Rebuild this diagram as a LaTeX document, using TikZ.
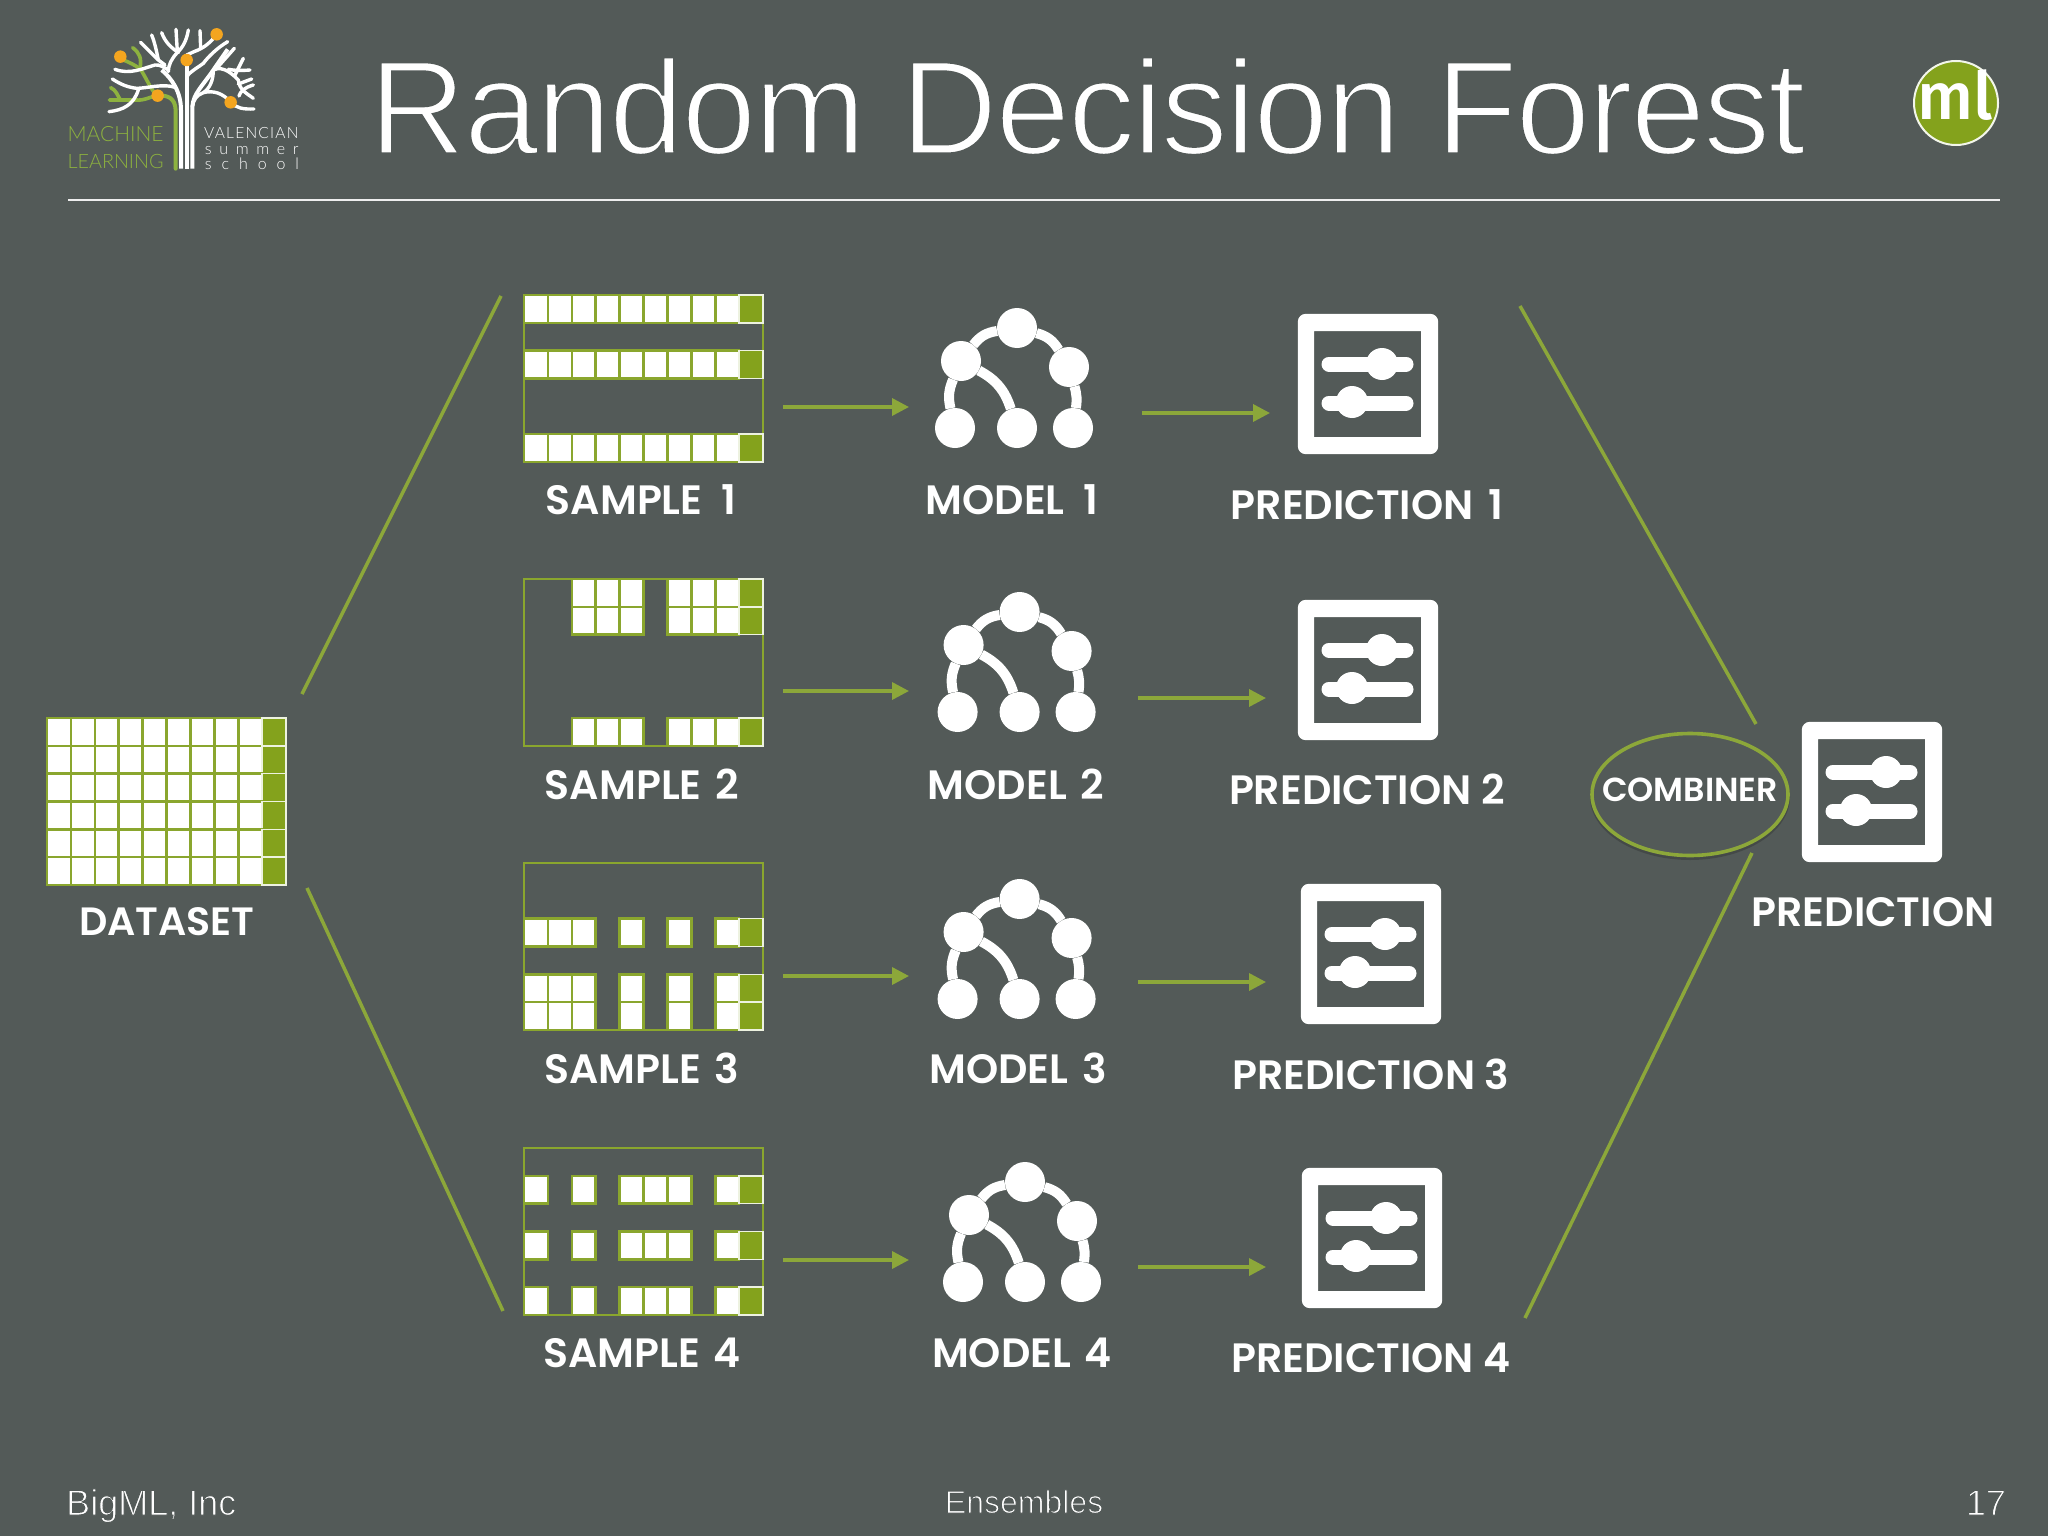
\documentclass[tikz,border=0pt]{standalone}
\usepackage{fontspec}
\usetikzlibrary{arrows.meta,shapes.geometric}
\setmainfont{Liberation Sans}
\newfontfamily\lightf{Lato Light}
\newfontfamily\boldf{Poppins SemiBold}
\newfontfamily\mlf{Fira Sans Medium}
\definecolor{bg}{HTML}{535A58}
\definecolor{grn}{HTML}{8AA62E}
\definecolor{lnk}{HTML}{8CA73A}
\definecolor{tgt}{HTML}{84A21C}
\definecolor{treeg}{HTML}{8DB23F}
\definecolor{orng}{HTML}{F4A51F}
\newcommand\thintext[2]{\special{pdf:code 2 Tr 0.325 0.353 0.345 RG #1 w}#2\special{pdf:code 0 Tr}}
\newcommand\wsp{\kern4pt\ }
\tikzset{
  lbl/.style={font=\boldf\fontsize{41}{41}\selectfont,text=white,inner sep=0pt},
  foot/.style={font=\fontsize{36}{36}\selectfont,text=white,inner sep=0pt},
  frame/.style={draw=grn,line width=2pt,rectangle,inner sep=0pt,minimum width=239pt,minimum height=167pt},
  cellw/.style={fill=white,draw=grn,line width=2.6pt},
  cellt/.style={fill=tgt,draw=white!85!grn,line width=1.4pt},
  link/.style={draw=lnk,line width=3.5pt},
  arr/.style={draw=lnk,line width=3.5pt,-{Triangle[length=17pt,width=17pt,fill=lnk]}},
  treen/.style={circle,fill=white,minimum size=40pt,inner sep=0pt},
  treee/.style={draw=white,line width=10pt},
  whbr/.style={draw=white,line width=3.4pt,line cap=round},
  grbr/.style={draw=treeg,line width=3.6pt,line cap=round},
  dot/.style={circle,fill=orng,minimum size=12.5pt,inner sep=0pt},
  logoa/.style={text=treeg,font=\lightf\fontsize{21}{21}\selectfont,anchor=base west,inner sep=0pt},
  logob/.style={text=white,anchor=base west,inner sep=0pt}
}
% name, x0, y0, rows, cols
\newcommand\gridset[5]{%
  \node[frame] (#1) at (#2+119.5,#3+83.5) {};
  \foreach \r in {#4}{%
    \foreach \c in {#5}{%
      \path[cellw] (#2+\c*23.9,#3+\r*27.83) rectangle ++(23.9,27.83);
    }%
    \path[cellt] (#2+215.1,#3+\r*27.83) rectangle ++(23.9,27.83);
  }%
}
\newcommand\modelicon[3]{%
  \begin{scope}[shift={(#2,#3)}]
    \node[treen] (#1t) at (1017,328) {};
    \node[treen] (#1l) at (961,361) {};
    \node[treen] (#1r) at (1069,367) {};
    \node[treen] (#1a) at (955,428) {};
    \node[treen] (#1b) at (1017,428) {};
    \node[treen] (#1c) at (1073,428) {};
    \draw[treee] (#1t) to[bend right=22] (#1l);
    \draw[treee] (#1t) to[bend left=22] (#1r);
    \draw[treee] (#1l) to[bend right=18] (#1a);
    \draw[treee] (#1l) to[bend left=22] (#1b);
    \draw[treee] (#1r) to[bend left=12] (#1c);
  \end{scope}%
}
\newcommand\predicon[3]{%
  \begin{scope}[shift={(#2,#3)}]
    \node[rectangle,minimum size=140pt,inner sep=0pt] (#1) at (1368,384) {};
    \fill[white,even odd rule,rounded corners=8pt] (#1.south west) rectangle (#1.north east)
       [sharp corners] (1314,331) rectangle (1421,437);
    \draw[white,line width=15pt,line cap=round] (1329,364) -- (1406,364);
    \draw[white,line width=15pt,line cap=round] (1329,403) -- (1406,403);
    \fill[white] (1382,364) circle[radius=16pt];
    \fill[white] (1352,402) circle[radius=16pt];
  \end{scope}%
}
\begin{document}
\begin{tikzpicture}[x=1pt,y=-1pt]
\useasboundingbox (0,0) rectangle (2048,1536);
\fill[bg] (0,0) rectangle (2048,1536);

% title and header
\node[anchor=base west,inner sep=0pt,text=white,font=\fontsize{134}{135}\selectfont\addfontfeature{LetterSpace=-1.5}] (title) at (369,154) {\thintext{3}{Random Decision Forest}};
\coordinate (ruleL) at (68,200);
\coordinate (ruleR) at (2000,200);
\draw[white!90!bg,line width=1.6pt] (ruleL) -- (ruleR);

% logo tree, in coordinates of the 3x crop
\begin{scope}[shift={(40,10)},x=0.33333pt,y=-0.33333pt]
  \draw[grbr,line width=4pt] (407,476) -- (407,300) .. controls (405,265) and (385,255) .. (353,257);
  \draw[grbr] (353,257) .. controls (320,262) and (320,272) .. (285,270) -- (208,270);
  \draw[grbr] (212,233) .. controls (228,240) and (232,255) .. (240,268);
  \draw[grbr] (353,257) .. controls (335,245) and (325,215) .. (300,175);
  \draw[grbr] (278,113) .. controls (300,130) and (305,145) .. (300,175);
  \draw[grbr] (250,150) .. controls (270,158) and (285,165) .. (302,178);
  \draw[whbr,line width=4pt,line cap=butt] (423,476) -- (423,300) .. controls (423,245) and (395,205) .. (365,180);
  \draw[whbr,line width=4pt,line cap=butt] (440,476) -- (440,150);
  \draw[whbr,line width=4pt,line cap=butt] (457,476) -- (457,290) .. controls (460,250) and (490,225) .. (520,180) -- (563,118);
  \draw[whbr] (225,178) .. controls (270,195) and (310,175) .. (345,165) .. controls (358,163) and (372,172) .. (385,180);
  \draw[whbr] (217,207) .. controls (245,225) and (265,232) .. (290,235) .. controls (320,235) and (370,220) .. (405,232);
  \draw[whbr] (207,305) .. controls (250,300) and (280,285) .. (295,240);
  \draw[whbr] (302,97) -- (355,150) -- (375,165);
  \draw[whbr] (335,75) .. controls (345,100) and (350,125) .. (355,150);
  \draw[whbr] (365,68) .. controls (375,95) and (390,110) .. (415,128);
  \draw[whbr] (408,58) -- (412,125);
  \draw[whbr] (445,60) .. controls (440,90) and (430,110) .. (412,128) .. controls (395,145) and (385,165) .. (385,185);
  \draw[whbr] (480,62) -- (482,115);
  \draw[whbr] (530,73) .. controls (510,100) and (490,115) .. (462,125) -- (440,135);
  \draw[whbr] (563,95) .. controls (530,115) and (505,140) .. (490,160) .. controls (470,175) and (450,185) .. (440,200);
  \draw[whbr] (520,180) .. controls (550,165) and (580,195) .. (595,210) .. controls (598,240) and (620,250) .. (640,265);
  \draw[whbr] (583,115) -- (530,175);
  \draw[whbr] (610,145) -- (585,195);
  \draw[whbr] (630,180) .. controls (605,182) and (585,182) .. (565,178);
  \draw[whbr] (635,207) -- (595,222);
  \draw[whbr] (640,225) .. controls (615,232) and (600,245) .. (597,258);
  \draw[whbr] (520,180) .. controls (520,210) and (510,235) .. (490,248) .. controls (470,255) and (460,270) .. (457,290);
  \draw[whbr] (490,248) .. controls (520,240) and (550,250) .. (572,277) .. controls (590,295) and (610,298) .. (642,297);
  \node[dot] (d1) at (241,140) {};
  \node[dot] (d2) at (353,257) {};
  \node[dot] (d3) at (440,150) {};
  \node[dot] (d4) at (530,73) {};
  \node[dot] (d5) at (572,277) {};
  \node[logoa] (lg1) at (82,396) {MACHINE};
  \node[logoa,font=\lightf\fontsize{19.8}{20}\selectfont] (lg2) at (82,475) {LEARNING};
  \node[logob,font=\lightf\fontsize{15.5}{15.5}\selectfont\addfontfeature{LetterSpace=8}] (lg3) at (492,386) {VALENCIAN};
  \node[logob,font=\lightf\fontsize{16}{16}\selectfont\addfontfeature{LetterSpace=48}] (lg4) at (494,434) {summer};
  \node[logob,font=\lightf\fontsize{16}{16}\selectfont\addfontfeature{LetterSpace=62}] (lg5) at (494,479) {school};
\end{scope}

% ml badge
\node[circle,fill=tgt,draw=white!90!grn,line width=2pt,minimum size=84pt,inner sep=0pt] (badge) at (1956,103) {};
\node[text=white,font=\mlf\fontsize{66}{66}\selectfont,inner sep=0pt,anchor=base] (mltext) at (1955,120) {ml};

% dataset
\gridset{ds}{47}{718}{0,1,2,3,4,5}{0,1,2,3,4,5,6,7,8}
\node[lbl,font=\boldf\fontsize{39.5}{40}\selectfont] (dsl) at (167,922) {DATASET};

% samples
\gridset{s1}{524}{295}{0,2,5}{0,1,2,3,4,5,6,7,8}
\gridset{s2}{524}{579}{0,1,5}{2,3,4,6,7,8}
\gridset{s3}{524}{863}{2,4,5}{0,1,2,4,6,8}
\gridset{s4}{524}{1148}{1,3,5}{0,2,4,5,6,8}
\node[lbl] (s1l) at (641,500) {SAMPLE\wsp\kern5pt 1};
\node[lbl] (s2l) at (642,784) {SAMPLE\wsp 2};
\node[lbl] (s3l) at (642,1068) {SAMPLE\wsp 3};
\node[lbl] (s4l) at (642,1353) {SAMPLE\wsp 4};

% models
\modelicon{m1}{0}{0}
\modelicon{m2}{2.6}{284}
\modelicon{m3}{2.6}{571}
\modelicon{m4}{8}{854}
\node[lbl] (m1l) at (1012,500) {MODEL\wsp\kern5pt 1};
\node[lbl] (m2l) at (1016,784) {MODEL\wsp 2};
\node[lbl] (m3l) at (1018,1068) {MODEL\wsp 3};
\node[lbl] (m4l) at (1022,1353) {MODEL\wsp 4};

% predictions
\predicon{p1}{0}{0}
\predicon{p2}{0}{286}
\predicon{p3}{3}{570}
\predicon{p4}{4}{854}
\predicon{p5}{504}{408}
\node[lbl] (p1l) at (1367,505) {PREDICTION\kern5pt\ 1};
\node[lbl] (p2l) at (1367,789) {PREDICTION 2};
\node[lbl] (p3l) at (1371,1074) {PREDICTION 3};
\node[lbl] (p4l) at (1371,1358) {PREDICTION 4};
\node[lbl] (p5l) at (1873,912) {PREDICTION};

% combiner
\fill[black,opacity=.18] (1690,797) ellipse[x radius=100pt,y radius=63pt];
\fill[bg] (1690,794.5) ellipse[x radius=97pt,y radius=60pt];
\node[ellipse,draw=lnk,line width=3.6pt,minimum width=196pt,minimum height=122pt,inner sep=0pt] (comb) at (1690,794.5) {};
\node[lbl,font=\boldf\fontsize{33.3}{34}\selectfont] (combl) at (1690,790) {COMBINER};

% fan lines
\coordinate (fa1) at (302,694); \coordinate (fa2) at (501,296);
\coordinate (fb1) at (307,888); \coordinate (fb2) at (503,1311);
\coordinate (fc1) at (1520,306); \coordinate (fc2) at (1756,724);
\coordinate (fd1) at (1525,1318); \coordinate (fd2) at (1752,853);
\draw[link] (fa1) -- (fa2);
\draw[link] (fb1) -- (fb2);
\draw[link] (fc1) -- (fc2);
\draw[link] (fd1) -- (fd2);

% arrows
\coordinate (a1s) at (783,407); \coordinate (a1e) at (909,407);
\coordinate (a2s) at (783,691); \coordinate (a2e) at (909,691);
\coordinate (a3s) at (783,976); \coordinate (a3e) at (909,976);
\coordinate (a4s) at (783,1260); \coordinate (a4e) at (909,1260);
\coordinate (b1s) at (1142,413); \coordinate (b1e) at (1270,413);
\coordinate (b2s) at (1138,698); \coordinate (b2e) at (1266,698);
\coordinate (b3s) at (1138,982); \coordinate (b3e) at (1266,982);
\coordinate (b4s) at (1138,1267); \coordinate (b4e) at (1266,1267);
\foreach \n in {a1,a2,a3,a4,b1,b2,b3,b4}{\draw[arr] (\n s) -- (\n e);}

% footer
\node[foot,anchor=base west] (f1) at (66,1515) {\thintext{1}{BigML, Inc}};
\node[foot,font=\fontsize{32}{32}\selectfont,anchor=base] (f2) at (1024,1513) {\thintext{1}{Ensembles}};
\node[foot,anchor=base east] (f3) at (2006,1515) {\thintext{1}{17}};
\end{tikzpicture}
\end{document}
